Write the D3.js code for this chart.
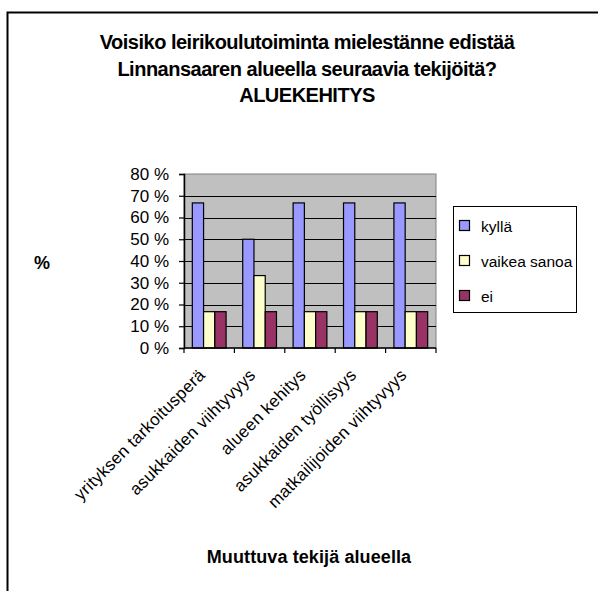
<!DOCTYPE html>
<html>
<head>
<meta charset="utf-8">
<script src="https://cdn.jsdelivr.net/npm/d3@7"></script>
<style>
    html, body { margin: 0; padding: 0; background: #fff; }
    svg text { font-family: "Liberation Sans", Arial, sans-serif; fill: #000; }
</style>
</head>
<body>
<svg id="chart"></svg>
<script>
// Chart data
const categories = ["yrityksen tarkoitusperä", "asukkaiden viihtyvyys", "alueen kehitys", "asukkaiden työllisyys", "matkailijoiden viihtyvyys"];
const seriesNames = ["kyllä", "vaikea sanoa", "ei"];
const kylla = [66.7, 50, 66.7, 66.7, 66.7];
const vaikeaSanoa = [16.7, 33.3, 16.7, 16.7, 16.7];
const ei = [16.7, 16.7, 16.7, 16.7, 16.7];
const yTicks = [0, 10, 20, 30, 40, 50, 60, 70, 80];
const titleLines = ["Voisiko leirikoulutoiminta mielestänne edistää", "Linnansaaren alueella seuraavia tekijöitä?", "ALUEKEHITYS"];

window.addEventListener("DOMContentLoaded", () => {
    const width = 598;
    const height = 591;
    const colors = ["#9999FF", "#FFFFCC", "#993366"];
    const series = [kylla, vaikeaSanoa, ei];

    const svg = d3.select("#chart")
        .attr("width", width)
        .attr("height", height);

    // outer frame (right and bottom fall outside the picture)
    svg.append("rect")
        .attr("x", 7.5).attr("y", 12.5)
        .attr("width", 620).attr("height", 620)
        .attr("fill", "#fff")
        .attr("stroke", "#000")
        .attr("stroke-width", 2);

    // title
    svg.append("g").selectAll("text")
        .data(titleLines)
        .enter().append("text")
        .attr("x", 307)
        .attr("y", (d, i) => 49 + i * 26.5)
        .attr("text-anchor", "middle")
        .attr("font-size", 20)
        .attr("font-weight", "bold")
        .attr("letter-spacing", -0.5)
        .text(d => d);

    // plot area
    const plot = { left: 184, right: 436, top: 174, bottom: 348 };

    const x0 = d3.scaleBand()
        .domain(categories)
        .range([plot.left, plot.right])
        .paddingInner(0.33)
        .paddingOuter(0.165);

    const xGroup = d3.scaleBand()
        .domain(categories)
        .range([plot.left, plot.right]);

    const x1 = d3.scaleBand()
        .domain(seriesNames)
        .range([0, x0.bandwidth()]);

    const y = d3.scaleLinear()
        .domain([0, 80])
        .range([plot.bottom, plot.top]);

    svg.append("rect")
        .attr("x", plot.left).attr("y", plot.top)
        .attr("width", plot.right - plot.left)
        .attr("height", plot.bottom - plot.top)
        .attr("fill", "#C0C0C0")
        .attr("stroke", "#808080");

    // gridlines
    svg.append("g").selectAll("line")
        .data(yTicks.filter(t => t > 0 && t < 80))
        .enter().append("line")
        .attr("x1", plot.left).attr("x2", plot.right)
        .attr("y1", d => Math.round(y(d)) + 0.5)
        .attr("y2", d => Math.round(y(d)) + 0.5)
        .attr("stroke", "#000");

    // bars
    const groups = svg.append("g").selectAll("g")
        .data(categories)
        .enter().append("g")
        .attr("transform", d => `translate(${x0(d)},0)`);

    groups.selectAll("rect")
        .data((d, i) => series.map((s, j) => ({ name: seriesNames[j], value: s[i], color: colors[j] })))
        .enter().append("rect")
        .attr("x", d => x1(d.name))
        .attr("y", d => y(d.value))
        .attr("width", x1.bandwidth())
        .attr("height", d => plot.bottom - y(d.value))
        .attr("fill", d => d.color)
        .attr("stroke", "#000")
        .attr("stroke-width", 1.2);

    // y axis
    const yAxis = d3.axisLeft(y)
        .tickValues(yTicks)
        .tickSize(5)
        .tickPadding(10)
        .tickFormat(d => d + " %");

    const yg = svg.append("g")
        .attr("transform", `translate(${plot.left},0)`)
        .call(yAxis);
    yg.attr("font-family", null).attr("font-size", null);
    yg.selectAll("text").attr("font-size", 17);
    yg.select(".domain").attr("stroke-width", 1.5);
    yg.selectAll(".tick line").attr("stroke-width", 1.2);

    // x axis: ticks at category boundaries
    const xg = svg.append("g");
    xg.append("line")
        .attr("x1", plot.left).attr("x2", plot.right)
        .attr("y1", plot.bottom).attr("y2", plot.bottom)
        .attr("stroke", "#000").attr("stroke-width", 1.5);
    xg.selectAll(".tk")
        .data(categories.concat([null]))
        .enter().append("line")
        .attr("class", "tk")
        .attr("x1", d => d ? xGroup(d) : plot.right)
        .attr("x2", d => d ? xGroup(d) : plot.right)
        .attr("y1", plot.bottom).attr("y2", plot.bottom + 5)
        .attr("stroke", "#000").attr("stroke-width", 1.2);

    xg.selectAll(".lbl")
        .data(categories)
        .enter().append("text")
        .attr("class", "lbl")
        .attr("text-anchor", "end")
        .attr("font-size", 17)
        .attr("letter-spacing", 0.3)
        .attr("transform", d => {
            const cx = xGroup(d) + xGroup.bandwidth() / 2 - 3;
            return `translate(${cx},${plot.bottom + 28}) rotate(-45)`;
        })
        .text(d => d);

    // axis titles
    svg.append("text")
        .attr("x", 42).attr("y", 269)
        .attr("text-anchor", "middle")
        .attr("font-size", 18)
        .attr("font-weight", "bold")
        .text("%");

    svg.append("text")
        .attr("x", 309).attr("y", 563)
        .attr("text-anchor", "middle")
        .attr("font-size", 18)
        .attr("font-weight", "bold")
        .attr("letter-spacing", 0.1)
        .text("Muuttuva tekijä alueella");

    // legend
    const legend = svg.append("g").attr("transform", "translate(453,206)");
    legend.append("rect")
        .attr("x", 0.5).attr("y", 0.5)
        .attr("width", 123).attr("height", 106)
        .attr("fill", "#fff")
        .attr("stroke", "#000");

    const items = legend.selectAll(".item")
        .data(seriesNames)
        .enter().append("g")
        .attr("class", "item")
        .attr("transform", (d, i) => `translate(0,${20 + i * 35})`);

    items.append("rect")
        .attr("x", 6.5).attr("y", -5.5)
        .attr("width", 10).attr("height", 10)
        .attr("fill", (d, i) => colors[i])
        .attr("stroke", "#000")
        .attr("stroke-width", 1.2);

    items.append("text")
        .attr("x", 28).attr("y", 6)
        .attr("font-size", 15.5)
        .text(d => d);
});
</script>
</body>
</html>
